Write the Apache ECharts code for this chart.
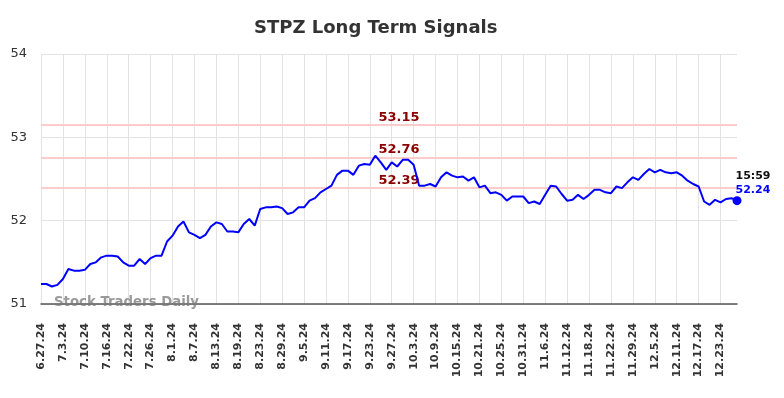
<!DOCTYPE html>
<html>
<head>
<meta charset="utf-8">
<title>STPZ Long Term Signals</title>
<script src="https://cdn.jsdelivr.net/npm/echarts@6/dist/echarts.min.js"></script>
<style>
  html, body { margin: 0; padding: 0; background: #fff; }
  #chart { width: 784px; height: 398px; }
</style>
</head>
<body>
<div id="chart"></div>
<script>
// trading days, 6/27/24 .. 12/27/24
var dates = [
  "6.27.24", "6.28.24",
  "7.1.24", "7.2.24", "7.3.24", "7.5.24", "7.8.24", "7.9.24", "7.10.24", "7.11.24", "7.12.24", "7.15.24", "7.16.24",
  "7.17.24", "7.18.24", "7.19.24", "7.22.24", "7.23.24", "7.24.24", "7.25.24", "7.26.24", "7.29.24", "7.30.24", "7.31.24",
  "8.1.24", "8.2.24", "8.5.24", "8.6.24", "8.7.24", "8.8.24", "8.9.24", "8.12.24", "8.13.24", "8.14.24", "8.15.24",
  "8.16.24", "8.19.24", "8.20.24", "8.21.24", "8.22.24", "8.23.24", "8.26.24", "8.27.24", "8.28.24", "8.29.24", "8.30.24",
  "9.3.24", "9.4.24", "9.5.24", "9.6.24", "9.9.24", "9.10.24", "9.11.24", "9.12.24", "9.13.24", "9.16.24", "9.17.24",
  "9.18.24", "9.19.24", "9.20.24", "9.23.24", "9.24.24", "9.25.24", "9.26.24", "9.27.24", "9.30.24",
  "10.1.24", "10.2.24", "10.3.24", "10.4.24", "10.7.24", "10.8.24", "10.9.24", "10.10.24", "10.11.24", "10.14.24",
  "10.15.24", "10.16.24", "10.17.24", "10.18.24", "10.21.24", "10.22.24", "10.23.24", "10.24.24", "10.25.24",
  "10.28.24", "10.29.24", "10.30.24", "10.31.24",
  "11.1.24", "11.4.24", "11.5.24", "11.6.24", "11.7.24", "11.8.24", "11.11.24", "11.12.24", "11.13.24", "11.14.24",
  "11.15.24", "11.18.24", "11.19.24", "11.20.24", "11.21.24", "11.22.24", "11.25.24", "11.26.24", "11.27.24", "11.29.24",
  "12.2.24", "12.3.24", "12.4.24", "12.5.24", "12.6.24", "12.9.24", "12.10.24", "12.11.24", "12.12.24", "12.13.24",
  "12.16.24", "12.17.24", "12.18.24", "12.19.24", "12.20.24", "12.23.24", "12.24.24", "12.26.24", "12.27.24"
];

var prices = [
  51.24, 51.24, 51.21, 51.23, 51.30, 51.42, 51.40, 51.40, 51.41, 51.48,
  51.50, 51.56, 51.58, 51.58, 51.57, 51.50, 51.46, 51.46, 51.54, 51.48,
  51.55, 51.58, 51.58, 51.75, 51.82, 51.93, 51.99, 51.86, 51.83, 51.79,
  51.83, 51.93, 51.98, 51.96, 51.87, 51.87, 51.86, 51.96, 52.02, 51.94,
  52.14, 52.16, 52.16, 52.17, 52.15, 52.08, 52.10, 52.16, 52.16, 52.24,
  52.27, 52.34, 52.38, 52.42, 52.55, 52.60, 52.60, 52.55, 52.66, 52.68,
  52.67, 52.78, 52.70, 52.61, 52.70, 52.65, 52.73, 52.73, 52.67, 52.42,
  52.42, 52.44, 52.41, 52.52, 52.58, 52.54, 52.52, 52.53, 52.48, 52.52,
  52.40, 52.42, 52.33, 52.34, 52.31, 52.24, 52.29, 52.29, 52.29, 52.21,
  52.23, 52.20, 52.31, 52.42, 52.41, 52.32, 52.24, 52.25, 52.31, 52.26,
  52.31, 52.37, 52.37, 52.34, 52.33, 52.41, 52.39, 52.46, 52.52, 52.49,
  52.56, 52.62, 52.58, 52.61, 52.58, 52.57, 52.58, 52.54, 52.48, 52.44,
  52.41, 52.23, 52.19, 52.25, 52.22, 52.26, 52.27, 52.24
];

var signalLevels = [53.15, 52.76, 52.39];
var lastTime = "15:59";

var lastIdx = prices.length - 1;
var lastPrice = prices[lastIdx];

var chart = echarts.init(document.getElementById("chart"), null, { renderer: "canvas" });

chart.setOption({
  backgroundColor: "#fff",
  animation: false,
  title: {
    text: "STPZ Long Term Signals",
    left: 249,
    top: 14,
    textStyle: { color: "#333", fontSize: 18, fontWeight: "bold", fontFamily: "DejaVu Sans" }
  },
  grid: { left: 41, right: 47, top: 54, bottom: 94 },
  xAxis: {
    type: "category",
    data: dates,
    boundaryGap: false,
    axisLine: { lineStyle: { color: "#555", width: 1.5 } },
    axisTick: { show: false },
    axisLabel: {
      interval: 3,
      rotate: 90,
      margin: 19,
      color: "#333",
      fontSize: 11,
      fontWeight: "bold",
      fontFamily: "DejaVu Sans"
    },
    splitLine: { show: true, interval: 3, lineStyle: { color: "#e3e3e3", width: 1 } }
  },
  yAxis: {
    type: "value",
    min: 51,
    max: 54,
    interval: 1,
    axisLine: { show: false },
    axisTick: { show: false },
    axisLabel: { color: "#333", fontSize: 13, margin: 14, fontFamily: "DejaVu Sans" },
    splitLine: { lineStyle: { color: "#e3e3e3", width: 1 } }
  },
  graphic: [{
    type: "text",
    left: 54,
    top: 296,
    z: 10,
    style: {
      text: "Stock Traders Daily",
      fill: "rgba(120,120,120,0.75)",
      font: "bold 13.3px DejaVu Sans"
    }
  }],
  series: [{
    type: "line",
    data: prices,
    showSymbol: false,
    lineStyle: { color: "#0000ff", width: 2 },
    itemStyle: { color: "#0000ff" },
    z: 5,
    markLine: {
      silent: true,
      symbol: "none",
      z: 1,
      lineStyle: { color: "#ffcccc", width: 2, type: "solid" },
      label: {
        position: "middle",
        distance: 1,
        padding: [0, 0, 0, 20],
        color: "#8b0000",
        fontSize: 13,
        fontWeight: "bold",
        fontFamily: "DejaVu Sans",
        formatter: function (p) { return p.value.toFixed(2); }
      },
      data: signalLevels.map(function (v) { return { yAxis: v }; })
    }
  }, {
    type: "scatter",
    data: [[lastIdx, lastPrice]],
    symbol: "circle",
    symbolSize: 9,
    itemStyle: { color: "#0000ff", opacity: 1 },
    z: 6,
    label: {
      show: true,
      position: [3, -27],
      align: "left",
      formatter: "{t|" + lastTime + "}\n{v|" + lastPrice.toFixed(2) + "}",
      rich: {
        t: { color: "#111", fontWeight: "bold", fontSize: 11, lineHeight: 14, fontFamily: "DejaVu Sans" },
        v: { color: "#0000ff", fontWeight: "bold", fontSize: 11, lineHeight: 14, fontFamily: "DejaVu Sans" }
      }
    }
  }]
});
</script>
</body>
</html>
